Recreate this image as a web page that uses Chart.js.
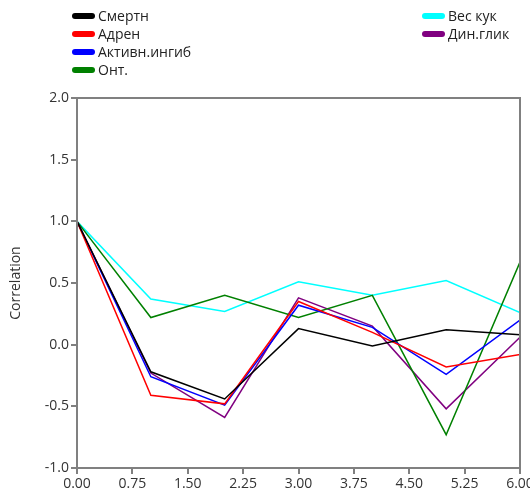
<!DOCTYPE html>
<html>
<head>
<meta charset="utf-8">
<script src="https://cdn.jsdelivr.net/npm/chart.js@4/dist/chart.umd.min.js"></script>
<style>
  html, body { margin: 0; padding: 0; background: #fff; overflow: hidden; }
  #wrap { position: relative; width: 545px; height: 503px; }
  .legend { position: absolute; font-family: "Open Sans", sans-serif; font-size: 14px; color: #222; }
  .legend div { height: 18px; line-height: 18px; white-space: nowrap; }
  .legend span { display: inline-block; width: 23px; height: 6px; border-radius: 3px; margin-right: 3px; vertical-align: middle; position: relative; top: -1px; }
</style>
</head>
<body>
<div id="wrap">
  <canvas id="chart" width="545" height="503"></canvas>
  <div class="legend" id="legendLeft" style="left:72px; top:7px;"></div>
  <div class="legend" id="legendRight" style="left:422px; top:7px;"></div>
</div>
<script>
// Data
const xValues = [0, 1, 2, 3, 4, 5, 6];
const seriesNames = ['Смертн', 'Адрен', 'Активн.ингиб', 'Онт.', 'Вес кук', 'Дин.глик'];
const seriesColors = ['#000000', '#ff0000', '#0000ff', '#008000', '#00ffff', '#800080'];
const smertn = [1.0, -0.22, -0.44, 0.13, -0.01, 0.12, 0.08];
const adren = [1.0, -0.41, -0.48, 0.35, 0.10, -0.18, -0.08];
const aktivn = [1.0, -0.26, -0.49, 0.32, 0.14, -0.24, 0.20];
const ont = [1.0, 0.22, 0.40, 0.22, 0.40, -0.73, 0.67];
const vesKuk = [1.0, 0.37, 0.27, 0.51, 0.40, 0.52, 0.26];
const dinGlik = [1.0, -0.23, -0.59, 0.38, 0.15, -0.52, 0.06];
const seriesValues = [smertn, adren, aktivn, ont, vesKuk, dinGlik];

const datasets = seriesNames.map((name, i) => ({
    label: name,
    data: xValues.map((x, j) => ({ x: x, y: seriesValues[i][j] })),
    borderColor: seriesColors[i],
    backgroundColor: seriesColors[i],
    borderWidth: 1.5,
    pointRadius: 0,
    tension: 0,
    fill: false
}));

// Legend (two columns like the original)
function buildLegend() {
    const left = document.getElementById('legendLeft');
    const right = document.getElementById('legendRight');
    seriesNames.forEach((name, i) => {
        const row = document.createElement('div');
        row.innerHTML = '<span style="background:' + seriesColors[i] + '"></span>' + name;
        (i < 4 ? left : right).appendChild(row);
    });
}
buildLegend();

// Frame around the plot area
const frame = {
    id: 'frame',
    afterDraw(chart) {
        const a = chart.chartArea;
        const ctx = chart.ctx;
        ctx.save();
        ctx.strokeStyle = '#808080';
        ctx.lineWidth = 2;
        ctx.strokeRect(a.left, a.top, a.right - a.left, a.bottom - a.top);
        ctx.restore();
    }
};

const tickFont = { family: 'Open Sans', size: 14 };

new Chart(document.getElementById('chart'), {
    type: 'line',
    data: { datasets: datasets },
    options: {
        responsive: false,
        animation: false,
        layout: { padding: { top: 98, right: 25, left: 8, bottom: 0 } },
        plugins: {
            legend: { display: false },
            tooltip: { enabled: false }
        },
        scales: {
            x: {
                type: 'linear',
                min: 0,
                max: 6,
                afterFit: scale => { scale.height = 35; },
                ticks: {
                    stepSize: 0.75,
                    color: '#333',
                    font: tickFont,
                    maxRotation: 0,
                    padding: 2,
                    callback: value => value.toFixed(2)
                },
                grid: { drawOnChartArea: false, color: '#808080', tickLength: 6, lineWidth: 2 },
                border: { color: '#808080', width: 2 }
            },
            y: {
                min: -1,
                max: 2,
                afterFit: scale => { scale.width = 69; },
                ticks: {
                    stepSize: 0.5,
                    color: '#333',
                    font: tickFont,
                    padding: 2,
                    callback: value => value.toFixed(1)
                },
                title: {
                    display: true,
                    text: 'Correlation',
                    color: '#333',
                    font: { family: 'Open Sans', size: 14 },
                    padding: 0
                },
                grid: { drawOnChartArea: false, color: '#808080', tickLength: 6, lineWidth: 2 },
                border: { color: '#808080', width: 2 }
            }
        }
    },
    plugins: [frame]
});
</script>
</body>
</html>
